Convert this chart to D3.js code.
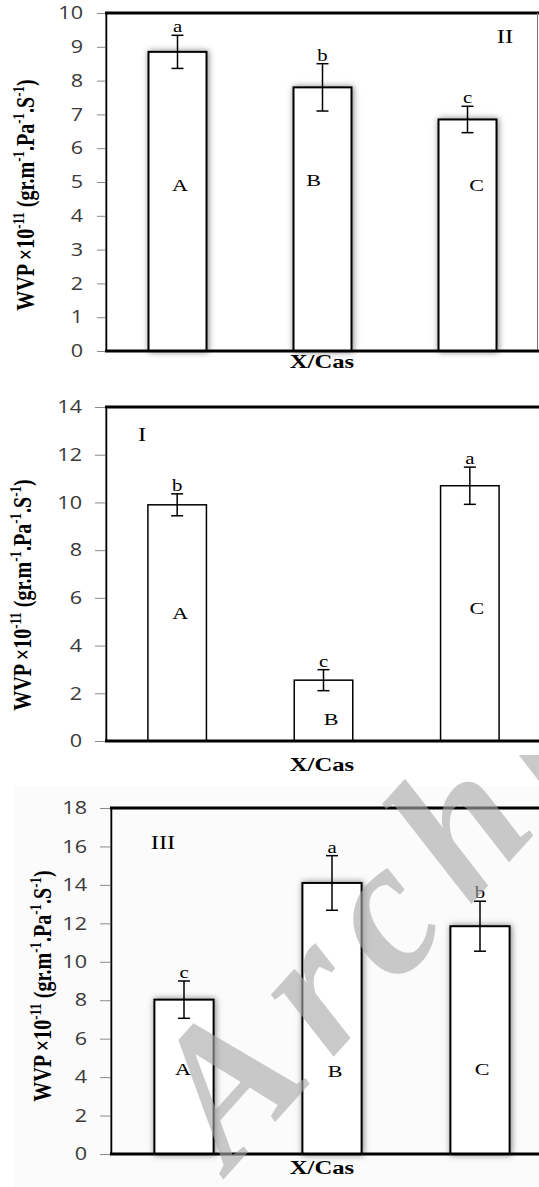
<!DOCTYPE html>
<html>
<head>
<meta charset="utf-8">
<script src="https://cdn.jsdelivr.net/npm/d3@7"></script>
<style>
  body { margin: 0; background: #fff; }
  svg { display: block; }
</style>
</head>
<body>
<script>
// bar categories
var categories = ["A", "B", "C"];

// panel II (top)
var valuesII = [8.85, 7.8, 6.85];
var errorsII = [0.49, 0.7, 0.39];
var groupsII = ["a", "b", "c"];
var labelAtII = [4.9, 5.05, 4.9];
var ticksII = [0, 1, 2, 3, 4, 5, 6, 7, 8, 9, 10];

// panel I (middle)
var valuesI = [9.9, 2.55, 10.7];
var errorsI = [0.46, 0.44, 0.78];
var groupsI = ["b", "c", "a"];
var labelAtI = [5.35, 0.9, 5.55];
var ticksI = [0, 2, 4, 6, 8, 10, 12, 14];

// panel III (bottom)
var valuesIII = [8.03, 14.1, 11.85];
var errorsIII = [0.97, 1.42, 1.3];
var groupsIII = ["c", "a", "b"];
var labelAtIII = [4.4, 4.3, 4.4];
var ticksIII = [0, 2, 4, 6, 8, 10, 12, 14, 16, 18];

var panelNames = ["II", "I", "III"];
var xTitle = "X/Cas";

var width = 539;
var height = 1187;
var serif = "'Liberation Serif', 'Times New Roman', serif";
var stretch = 1.3;

// page layout of each panel
var layouts = [
	{top: 13, bottom: 351, axisX: 105, xRange: [105, 540], tickSize: 8, tickPad: 14,
	 barStroke: 2, shadow: true, rightLine: true, yLabel: [34, 195], xLabelY: 368,
	 idPos: [505, 43], labelDx: [2.5, -9, 9]},
	{top: 407, bottom: 741, axisX: 105, xRange: [104, 543], tickSize: 10, tickPad: 13,
	 barStroke: 1.5, shadow: false, rightLine: false, yLabel: [31, 595], xLabelY: 771,
	 idPos: [142, 441], labelDx: [3, 7.5, 7]},
	{top: 808, bottom: 1154, axisX: 110, xRange: [110, 554], tickSize: 10, tickPad: 13,
	 barStroke: 2, shadow: true, rightLine: false, yLabel: [51, 986], xLabelY: 1174,
	 idPos: [163, 849], labelDx: [-1, 3, 2]}
];

var panels = [
	{values: valuesII, errors: errorsII, groups: groupsII, labelAt: labelAtII, ticks: ticksII},
	{values: valuesI, errors: errorsI, groups: groupsI, labelAt: labelAtI, ticks: ticksI},
	{values: valuesIII, errors: errorsIII, groups: groupsIII, labelAt: labelAtIII, ticks: ticksIII}
];

var svg = d3.select("body").append("svg")
	.attr("width", width)
	.attr("height", height);

var defs = svg.append("defs");
defs.append("filter")
	.attr("id", "shadow")
	.attr("x", "-30%").attr("y", "-10%")
	.attr("width", "160%").attr("height", "120%")
	.append("feDropShadow")
	.attr("dx", 1).attr("dy", 0)
	.attr("stdDeviation", 3)
	.attr("flood-color", "#000")
	.attr("flood-opacity", 0.5);

// the watermark only shows over the lower part of the page
defs.append("clipPath")
	.attr("id", "wmclip")
	.append("rect")
	.attr("x", 0).attr("y", 755)
	.attr("width", width).attr("height", height - 755);

svg.append("rect")
	.attr("width", width).attr("height", height)
	.attr("fill", "#fff");

// faint grey backdrop behind the lower figure
svg.append("rect")
	.attr("x", 14).attr("y", 787)
	.attr("width", width - 14).attr("height", height - 787)
	.attr("fill", "#fbfbfb");

// stretched text helper
function stretchedText(g, x, y, str, rotate) {
	return g.append("text")
		.attr("transform", "translate(" + x + "," + y + ") scale(" + stretch + ",1)" + (rotate ? " rotate(-90)" : ""))
		.attr("font-family", serif)
		.attr("text-anchor", "middle")
		.text(str);
}

panels.forEach(function(p, pi) {
	var L = layouts[pi];
	var g = svg.append("g");

	var x = d3.scaleBand()
		.domain(categories)
		.range(L.xRange)
		.paddingInner(0.6)
		.paddingOuter(0.3);

	var y = d3.scaleLinear()
		.domain([p.ticks[0], p.ticks[p.ticks.length - 1]])
		.range([L.bottom, L.top]);

	// y axis
	var sx = 1.2;
	var axis = g.append("g")
		.attr("transform", "translate(" + L.axisX + ",0)")
		.call(d3.axisLeft(y).tickValues(p.ticks).tickSize(L.tickSize).tickPadding(L.tickPad));
	axis.select(".domain").attr("stroke", "#8a8a8a").attr("stroke-width", 1);
	axis.selectAll(".tick line").attr("stroke", "#8a8a8a");
	axis.selectAll(".tick text")
		.attr("x", -(L.tickSize + L.tickPad) / sx)
		.attr("transform", "scale(" + sx + ",1)")
		.attr("font-family", "'Open Sans', sans-serif")
		.attr("font-size", 18)
		.attr("fill", "#3a3a3a");

	// frame
	g.append("line")
		.attr("x1", L.axisX).attr("x2", width)
		.attr("y1", L.top).attr("y2", L.top)
		.attr("stroke", "#000").attr("stroke-width", 3);
	g.append("line")
		.attr("x1", L.axisX + 1.5).attr("x2", L.axisX + 1.5)
		.attr("y1", L.top).attr("y2", L.bottom)
		.attr("stroke", "#000").attr("stroke-width", 1.5);
	if (L.rightLine) {
		g.append("line")
			.attr("x1", width - 1.5).attr("x2", width - 1.5)
			.attr("y1", L.top).attr("y2", L.bottom)
			.attr("stroke", "#777").attr("stroke-width", 1);
	}

	// bars
	g.selectAll("rect.bar")
		.data(p.values)
		.enter()
		.append("rect")
		.attr("class", "bar")
		.attr("x", function(d, i) { return x(categories[i]); })
		.attr("y", function(d) { return y(d); })
		.attr("width", x.bandwidth())
		.attr("height", function(d) { return y(0) - y(d); })
		.attr("fill", "#fff")
		.attr("stroke", "#000")
		.attr("stroke-width", L.barStroke)
		.attr("filter", L.shadow ? "url(#shadow)" : null);

	// x baseline
	g.append("line")
		.attr("x1", L.axisX).attr("x2", width)
		.attr("y1", L.bottom).attr("y2", L.bottom)
		.attr("stroke", "#000").attr("stroke-width", 3);

	// error bars
	var cx = function(i) { return x(categories[i]) + x.bandwidth() / 2; };
	var err = g.selectAll("g.err")
		.data(p.values)
		.enter()
		.append("g")
		.attr("class", "err")
		.attr("stroke", "#000")
		.attr("stroke-width", 1.5);
	err.append("line")
		.attr("x1", function(d, i) { return cx(i); })
		.attr("x2", function(d, i) { return cx(i); })
		.attr("y1", function(d, i) { return y(d + p.errors[i]); })
		.attr("y2", function(d, i) { return y(d - p.errors[i]); });
	[1, -1].forEach(function(s) {
		err.append("line")
			.attr("x1", function(d, i) { return cx(i) - 6; })
			.attr("x2", function(d, i) { return cx(i) + 6; })
			.attr("y1", function(d, i) { return y(d + s * p.errors[i]); })
			.attr("y2", function(d, i) { return y(d + s * p.errors[i]); });
	});

	// significance letters and bar names
	p.values.forEach(function(d, i) {
		stretchedText(g, cx(i), y(d + p.errors[i]) - 3, p.groups[i])
			.attr("font-size", 16);
		stretchedText(g, cx(i) + L.labelDx[i], y(p.labelAt[i]) + 5.5, categories[i])
			.attr("font-size", 17);
	});

	// panel number
	stretchedText(g, L.idPos[0], L.idPos[1], panelNames[pi]).attr("font-size", 19);

	// x title
	stretchedText(g, 322, L.xLabelY, xTitle)
		.attr("font-size", 19)
		.attr("font-weight", "bold");

	// y title with superscripts
	var yt = stretchedText(g, L.yLabel[0], L.yLabel[1], "", true)
		.attr("font-size", 20)
		.attr("font-weight", "bold");
	var parts = [["WVP \u00d710", false], ["-11", true], [" (gr.m", false], ["-1", true],
		[".Pa", false], ["-1", true], [".S", false], ["-1", true], [")", false]];
	parts.forEach(function(pt, k) {
		var prevSup = k > 0 && parts[k - 1][1];
		yt.append("tspan")
			.attr("font-size", pt[1] ? 13 : 20)
			.attr("dy", pt[1] ? -8 : (prevSup ? 8 : 0))
			.text(pt[0]);
	});
});

// watermark
svg.append("g")
	.attr("clip-path", "url(#wmclip)")
	.append("text")
	.attr("transform", "translate(230,1172) rotate(-48)")
	.attr("font-family", serif)
	.attr("font-style", "italic")
	.attr("font-weight", "bold")
	.attr("font-size", 192)
	.attr("letter-spacing", 23)
	.attr("fill", "#a8a8a8")
	.attr("fill-opacity", 0.62)
	.text("Archive");
</script>
</body>
</html>
